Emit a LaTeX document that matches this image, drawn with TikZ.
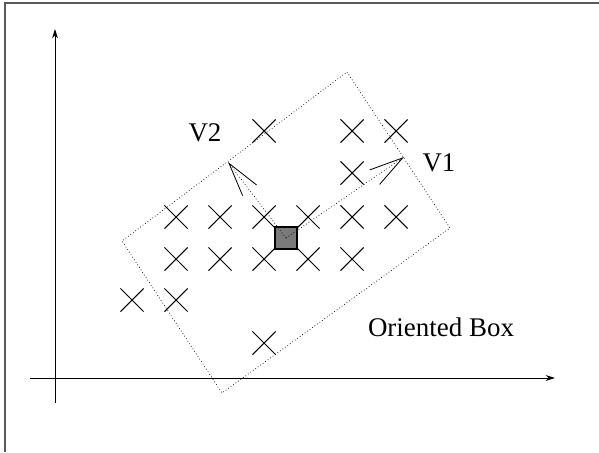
\documentclass[tikz,border=0pt]{standalone}
\usepackage{fontspec}
\setmainfont{Liberation Serif}
\usepackage{tikz}
\usetikzlibrary{arrows.meta,shapes.misc}
\tikzset{>={Stealth[length=8pt,width=5pt]}}
\tikzset{
  pt/.style={cross out,draw,line width=0.9pt,minimum size=0.66cm,inner sep=0pt},
  lab/.style={font=\fontsize{23}{27}\selectfont,inner sep=0pt},
  vec/.style={dotted,line width=0.6pt,-{Straight Barb[length=29pt,width=15pt,line width=0.7pt]}}
}

\begin{document}
\begin{tikzpicture}[x=0.03cm,y=-0.03cm]
  \useasboundingbox (0,0) rectangle (599,452);

  \draw[line width=0.9pt,gray!70!black] (599,3)--(5,3)--(5,452);

  \coordinate (xs) at (30,378);
  \coordinate (xe) at (555,378);
  \coordinate (ys) at (55,403);
  \coordinate (ye) at (55,29);
  \draw[->,line width=0.8pt] (xs)--(xe);
  \draw[->,line width=0.8pt] (ys)--(ye);

  \draw[dotted,line width=0.6pt] (347,72)--(450,228)--(222,393)--(122,241)--cycle;

  \foreach \x/\y in {264/131,352/131,396/131,352/173,
                     176/217,220/217,264/217,308/217,352/217,396/217,
                     176/259,220/259,264/259,308/259,352/259,
                     132/300,176/300,264/343}
    \node[pt] (p\x-\y) at (\x,\y) {};

  \node[draw,fill=black!52,line width=0.9pt,minimum size=0.66cm,inner sep=0pt] at (286,238) (c) {};

  \coordinate (t1) at (404,157);
  \coordinate (t2) at (228,162);
  \draw[vec] (c.center)--(t1);
  \draw[vec] (c.center)--(t2);

  \node[lab] at (439,163) (v1) {V1};
  \node[lab] at (205,133) (v2) {V2};
  \node[lab] at (441,327) (ob) {Oriented Box};
\end{tikzpicture}
\end{document}
